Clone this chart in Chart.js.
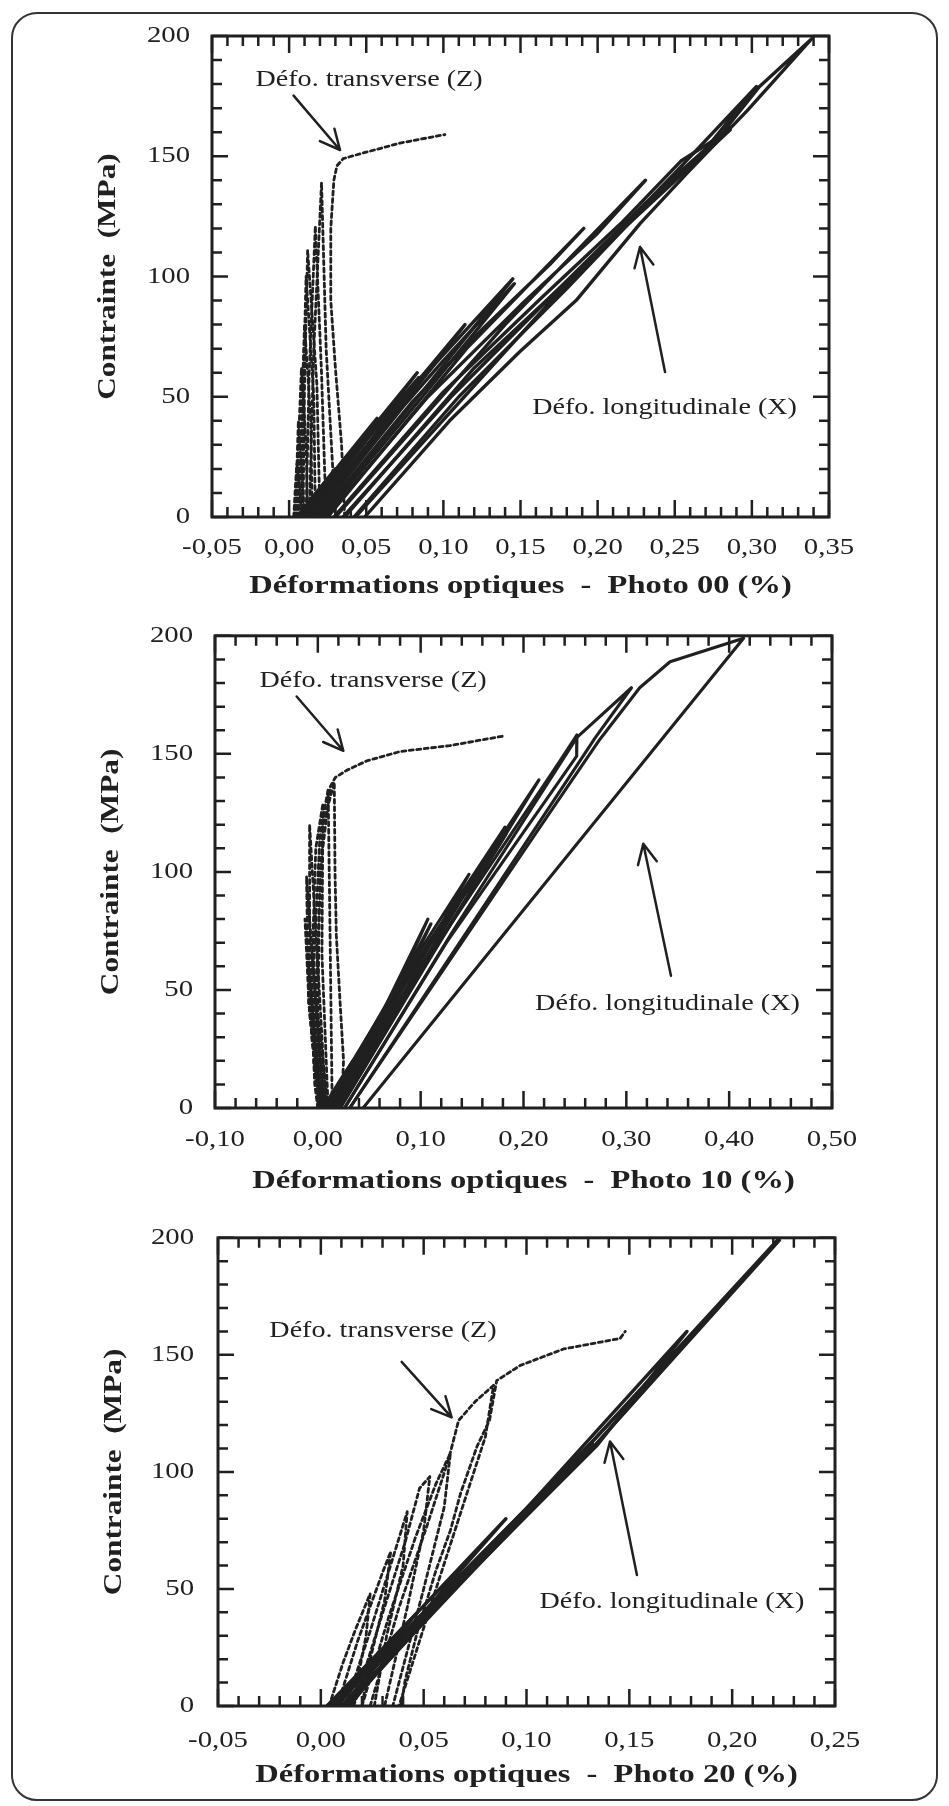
<!DOCTYPE html>
<html>
<head>
<meta charset="utf-8">
<script src="https://cdn.jsdelivr.net/npm/chart.js@4.4.0/dist/chart.umd.min.js"></script>
<style>
  body { margin: 0; background: #fff; }
  #page { position: relative; width: 949px; height: 1806px; overflow: hidden; background: #fff; }
  #frame { position: absolute; left: 11px; top: 12px; width: 923px; height: 1785px;
           border: 2px solid #333; border-radius: 26px; }
  canvas { position: absolute; left: 0; }
</style>
</head>
<body>
<div id="page">
  <div id="frame"></div>
  <canvas id="c00" width="949" height="600" style="top:0px"></canvas>
  <canvas id="c10" width="949" height="600" style="top:600px"></canvas>
  <canvas id="c20" width="949" height="606" style="top:1200px"></canvas>
</div>
<script>
// Valeurs : déformation (%) / contrainte (MPa), un tableau par cycle
const yTicks = [0, 50, 100, 150, 200];
const xTicks00 = [-0.05, 0, 0.05, 0.10, 0.15, 0.20, 0.25, 0.30, 0.35];
const xTicks10 = [-0.10, 0, 0.10, 0.20, 0.30, 0.40, 0.50];
const xTicks20 = [-0.05, 0, 0.05, 0.10, 0.15, 0.20, 0.25];

// Photo 00 - longitudinale (X)
const photo00Long = [
  [[0.005,0],[0.020,12],[0.030,20],[0.018,10],[0.007,0]],
  [[0.006,0],[0.033,22],[0.057,41],[0.034,20],[0.009,0]],
  [[0.008,0],[0.045,30],[0.083,60],[0.050,32],[0.012,0]],
  [[0.009,0],[0.047,30],[0.084,58],[0.053,32],[0.013,0]],
  [[0.011,0],[0.060,40],[0.088,60],[0.114,80],[0.068,42],[0.016,0]],
  [[0.015,0],[0.070,45],[0.095,64],[0.145,99],[0.090,55],[0.020,0]],
  [[0.017,0],[0.074,46],[0.100,65],[0.146,97],[0.094,56],[0.022,0]],
  [[0.019,0],[0.080,48],[0.125,78],[0.169,105],[0.191,120],[0.115,70],[0.025,0]],
  [[0.024,0],[0.090,50],[0.150,88],[0.200,118],[0.231,140],[0.140,80],[0.030,0]],
  [[0.029,0],[0.100,52],[0.165,92],[0.215,122],[0.254,148],[0.286,161],[0.200,110],[0.120,62],[0.036,0]],
  [[0.035,0],[0.105,50],[0.175,95],[0.230,130],[0.270,153],[0.303,179],[0.250,143],[0.170,90],[0.043,0]],
  [[0.042,0],[0.110,50],[0.180,95],[0.235,132],[0.275,155],[0.305,179],[0.339,199],[0.297,169],[0.258,143],[0.2275,122],[0.186,90],[0.150,69],[0.104,40],[0.049,0]]
];
// Photo 00 - transverse (Z)
const photo00Trans = [
  [[0.003,0],[0.004,12],[0.005,22],[0.007,12],[0.008,0]],
  [[0.004,0],[0.005,20],[0.006,40],[0.008,20],[0.010,0]],
  [[0.005,0],[0.006,30],[0.008,62],[0.011,30],[0.012,0]],
  [[0.006,0],[0.008,40],[0.010,80],[0.014,40],[0.015,0]],
  [[0.008,0],[0.009,50],[0.011,100],[0.016,50],[0.017,0]],
  [[0.009,0],[0.010,55],[0.012,111],[0.018,55],[0.020,0]],
  [[0.011,0],[0.013,60],[0.017,121],[0.021,60],[0.024,0]],
  [[0.013,0],[0.016,70],[0.021,139],[0.024,70],[0.030,0]],
  [[0.036,0],[0.034,30],[0.030,62],[0.027,90],[0.027,120],[0.029,140],[0.031,146],[0.035,149],[0.046,151],[0.072,155.5],[0.101,159]]
];

// Photo 10 - longitudinale (X)
const photo10Long = [
  [[0.005,0],[0.022,12],[0.034,20],[0.022,10],[0.007,0]],
  [[0.006,0],[0.034,20],[0.062,40],[0.038,20],[0.009,0]],
  [[0.008,0],[0.048,30],[0.088,60],[0.054,32],[0.011,0]],
  [[0.009,0],[0.052,32],[0.089,58],[0.058,33],[0.013,0]],
  [[0.010,0],[0.060,38],[0.107,80],[0.068,42],[0.013,0]],
  [[0.011,0],[0.064,40],[0.110,78],[0.072,43],[0.015,0]],
  [[0.012,0],[0.075,50],[0.147,99],[0.085,50],[0.016,0]],
  [[0.013,0],[0.079,51],[0.149,97],[0.089,51],[0.018,0]],
  [[0.014,0],[0.085,55],[0.182,119],[0.098,58],[0.019,0]],
  [[0.015,0],[0.090,57],[0.183,116],[0.103,60],[0.021,0]],
  [[0.016,0],[0.095,60],[0.215,139],[0.110,64],[0.022,0]],
  [[0.019,0],[0.105,62],[0.2355,147],[0.252,158],[0.2517,149],[0.125,70],[0.026,0]],
  [[0.026,0],[0.130,74],[0.252,157],[0.305,178],[0.270,157],[0.150,78],[0.031,0]],
  [[0.031,0],[0.216,119],[0.274,156],[0.313,178],[0.3425,189],[0.414,199],[0.044,0]]
];
// Photo 10 - transverse (Z)
const photo10Trans = [
  [[0.000,0],[-0.003,10],[-0.004,20],[-0.001,10],[0.002,0]],
  [[0.001,0],[-0.004,20],[-0.006,40],[-0.002,20],[0.003,0]],
  [[0.002,0],[-0.006,30],[-0.009,60],[-0.003,30],[0.004,0]],
  [[0.002,0],[-0.008,40],[-0.0125,80],[-0.004,40],[0.005,0]],
  [[0.003,0],[-0.009,45],[-0.011,98],[-0.003,50],[0.006,0]],
  [[0.004,0],[-0.008,50],[-0.008,120],[0.000,60],[0.008,0]],
  [[0.005,0],[-0.006,55],[-0.002,110],[0.005,129],[0.004,65],[0.010,0]],
  [[0.006,0],[-0.004,60],[0.002,115],[0.010,135],[0.012,70],[0.014,0]],
  [[0.008,0],[-0.002,50],[0.005,120],[0.016,138],[0.0167,100],[0.018,73],[0.0216,45],[0.025,20],[0.023,0]],
  [[0.010,0],[0.000,40],[0.002,100],[0.012,136],[0.017,140],[0.028,143],[0.0475,147],[0.080,151],[0.1285,153.5],[0.180,157.5]]
];

// Photo 20 - longitudinale (X)
const photo20Long = [
  [[0.003,0],[0.047,40],[0.008,0]],
  [[0.004,0],[0.090,80],[0.010,0]],
  [[0.005,0],[0.132,112],[0.012,0]],
  [[0.006,0],[0.053,40],[0.134,111],[0.178,160],[0.013,0]],
  [[0.003,0],[0.052,40],[0.133,111],[0.223,199],[0.130,111],[0.050,40],[0.014,0]],
  [[0.004,0],[0.050,40],[0.131,112],[0.222,199],[0.132,110],[0.054,40],[0.011,0]]
];
// Photo 20 - transverse (Z)
const photo20Trans = [
  [[0.004,0],[0.011,19],[0.017,33],[0.024,48],[0.022,30],[0.018,12],[0.016,0]],
  [[0.008,0],[0.018,28],[0.030,57],[0.034,66],[0.031,45],[0.024,20],[0.020,0]],
  [[0.012,0],[0.024,32],[0.036,66],[0.042,83],[0.040,60],[0.032,30],[0.026,0]],
  [[0.016,0],[0.028,34],[0.041,70],[0.048,93],[0.053,98],[0.050,75],[0.042,42],[0.031,0]],
  [[0.020,0],[0.033,38],[0.046,72],[0.056,95],[0.063,108],[0.060,85],[0.050,50],[0.035,0]],
  [[0.024,0],[0.038,42],[0.052,78],[0.062,105],[0.067,122],[0.075,130],[0.084,137],[0.080,115],[0.070,88],[0.056,50],[0.038,0]],
  [[0.039,0],[0.041,11],[0.047,32],[0.056,58],[0.063,75],[0.068,91],[0.076,111],[0.082,122],[0.0855,139],[0.097,145.5],[0.118,152.5],[0.1455,157],[0.148,160]]
];

const INK = '#202020';
const SERIF = '"Liberation Serif", "Times New Roman", serif';
const TEXT_STRETCH = 1.25;   // le scan original est étiré horizontalement
Chart.defaults.font.family = SERIF;
Chart.defaults.color = INK;

const fmt = v => (Math.abs(v) < 1e-9 ? 0 : v).toFixed(2).replace('.', ',');

// cadre complet + graduations intérieures sur les quatre côtés
const frameTicks = {
  id: 'frameTicks',
  afterDatasetsDraw(chart) {
    const { ctx, chartArea: a, scales: { x, y } } = chart;
    const marks = scale => {
      const v = scale.ticks.map(t => t.value);
      const out = [];
      for (let i = 0; i < v.length; i++) {
        out.push([v[i], true]);
        if (i < v.length - 1) for (let k = 1; k < 5; k++) out.push([v[i] + (v[i + 1] - v[i]) * k / 5, false]);
      }
      return out;
    };
    ctx.save();
    ctx.strokeStyle = INK;
    ctx.lineWidth = 2.5;
    ctx.beginPath();
    marks(x).forEach(([v, major]) => {
      const px = x.getPixelForValue(v), len = major ? 17 : 10;
      ctx.moveTo(px, a.bottom); ctx.lineTo(px, a.bottom - len);
      ctx.moveTo(px, a.top); ctx.lineTo(px, a.top + len);
    });
    marks(y).forEach(([v, major]) => {
      const py = y.getPixelForValue(v), len = major ? 16 : 10;
      ctx.moveTo(a.left, py); ctx.lineTo(a.left + len, py);
      ctx.moveTo(a.right, py); ctx.lineTo(a.right - len, py);
    });
    ctx.stroke();
    ctx.lineWidth = 3;
    ctx.strokeRect(a.left, a.top, a.right - a.left, a.bottom - a.top);
    ctx.restore();
  }
};

// textes et flèches d'annotation, placés en unités des axes
function notesPlugin(notes) {
  return {
    id: 'notes',
    afterDatasetsDraw(chart) {
      const { ctx, scales: { x, y } } = chart;
      ctx.save();
      ctx.fillStyle = INK;
      ctx.strokeStyle = INK;
      ctx.font = '22.5px ' + SERIF;
      ctx.textAlign = 'center';
      ctx.textBaseline = 'alphabetic';
      notes.labels.forEach(l => {
        ctx.fillText(l.text, x.getPixelForValue(l.at[0]), y.getPixelForValue(l.at[1]));
      });
      ctx.lineWidth = 2.5;
      ctx.lineCap = 'round';
      notes.arrows.forEach(ar => {
        const x1 = x.getPixelForValue(ar.from[0]), y1 = y.getPixelForValue(ar.from[1]);
        const x2 = x.getPixelForValue(ar.to[0]), y2 = y.getPixelForValue(ar.to[1]);
        const ang = Math.atan2(y2 - y1, x2 - x1);
        ctx.beginPath();
        ctx.moveTo(x1, y1); ctx.lineTo(x2, y2);
        [-0.45, 0.45].forEach(d => {
          ctx.moveTo(x2, y2);
          ctx.lineTo(x2 - 22 * Math.cos(ang + d), y2 - 22 * Math.sin(ang + d));
        });
        ctx.stroke();
      });
      ctx.restore();
    }
  };
}

function buildDatasets(longCycles, transCycles, longWidth) {
  const sets = [];
  transCycles.forEach(c => sets.push({
    data: c.map(p => ({ x: p[0], y: p[1] })),
    borderColor: INK, borderWidth: 2.8, borderDash: [4, 3.5]
  }));
  longCycles.forEach(c => sets.push({
    data: c.map(p => ({ x: p[0], y: p[1] })),
    borderColor: INK, borderWidth: longWidth
  }));
  return sets;
}

function makePanel(p) {
  const W = 949;
  const canvas = document.getElementById(p.id);
  // texte étiré horizontalement comme sur la figure scannée
  const c2d = canvas.getContext('2d');
  const fill = c2d.fillText.bind(c2d);
  c2d.fillText = (t, x, y) => {
    c2d.save();
    c2d.translate(x, y);
    c2d.scale(TEXT_STRETCH, 1);
    fill(t, 0, 0);
    c2d.restore();
  };

  new Chart(canvas, {
    type: 'scatter',
    data: { datasets: buildDatasets(p.long, p.trans, p.longWidth) },
    options: {
      responsive: false,
      animation: false,
      devicePixelRatio: 1,
      showLine: true,
      elements: { point: { radius: 0 }, line: { tension: 0, borderJoinStyle: 'round', borderCapStyle: 'round' } },
      layout: { padding: { top: p.area.t, right: W - p.area.r, bottom: 0, left: 0 } },
      plugins: { legend: { display: false }, tooltip: { enabled: false } },
      scales: {
        x: {
          type: 'linear', min: p.xTicks[0], max: p.xTicks[p.xTicks.length - 1],
          grid: { display: false, drawTicks: false }, border: { display: false },
          afterBuildTicks: s => { s.ticks = p.xTicks.map(v => ({ value: v })); },
          afterFit: s => { s.height = p.h - p.area.b; },
          ticks: { callback: v => fmt(v), font: { size: 23 }, padding: p.xPad, maxRotation: 0, autoSkip: false },
          title: { display: true, text: p.xTitle, font: { size: 26, weight: 'bold', lineHeight: 1 },
                   padding: { top: 0, bottom: p.xTitleBottom } }
        },
        y: {
          type: 'linear', min: 0, max: 200,
          grid: { display: false, drawTicks: false }, border: { display: false },
          afterBuildTicks: s => { s.ticks = yTicks.map(v => ({ value: v })); },
          afterFit: s => { s.width = p.area.l; },
          ticks: { callback: v => String(v), font: { size: 23 }, padding: p.yPad },
          title: { display: true, text: 'Contrainte  (MPa)', font: { size: 25, weight: 'bold', lineHeight: 1 },
                   padding: { top: p.yTitleX - 12.5, bottom: 0 } }
        }
      }
    },
    plugins: [frameTicks, notesPlugin(p.notes)]
  });
}

function drawAll() {
  makePanel({
    id: 'c00', h: 600, area: { l: 212, r: 829, t: 36, b: 517 },
    xTicks: xTicks00, long: photo00Long, trans: photo00Trans, longWidth: 3.4,
    xTitle: 'Déformations optiques  -  Photo 00 (%)', xPad: 17, xTitleBottom: 1, yPad: 22, yTitleX: 109,
    notes: {
      labels: [{ text: 'Défo. transverse (Z)', at: [0.0518, 179.2] },
               { text: 'Défo. longitudinale (X)', at: [0.2434, 42.8] }],
      arrows: [{ from: [0.0029, 175.2], to: [0.033, 152.6] },
               { from: [0.2437, 60.3], to: [0.2275, 112.3] }]
    }
  });

  makePanel({
    id: 'c10', h: 600, area: { l: 215, r: 832, t: 27, b: 508 },
    xTicks: xTicks10, long: photo10Long, trans: photo10Trans, longWidth: 3.1,
    xTitle: 'Déformations optiques  -  Photo 10 (%)', xPad: 18.5, xTitleBottom: 6, yPad: 22, yTitleX: 112,
    notes: {
      labels: [{ text: 'Défo. transverse (Z)', at: [0.0537, 178.4] },
               { text: 'Défo. longitudinale (X)', at: [0.340, 41.5] }],
      arrows: [{ from: [-0.0206, 174.3], to: [0.0248, 151.3] },
               { from: [0.3434, 56], to: [0.3165, 111.9] }]
    }
  });

  makePanel({
    id: 'c20', h: 606, area: { l: 218, r: 835, t: 26, b: 506 },
    xTicks: xTicks20, long: photo20Long, trans: photo20Trans, longWidth: 3.4,
    xTitle: 'Déformations optiques  -  Photo 20 (%)', xPad: 21, xTitleBottom: 18, yPad: 24, yTitleX: 115,
    notes: {
      labels: [{ text: 'Défo. transverse (Z)', at: [0.0302, 157.5] },
               { text: 'Défo. longitudinale (X)', at: [0.1707, 42] }],
      arrows: [{ from: [0.0393, 147], to: [0.0636, 123.3] },
               { from: [0.1537, 56], to: [0.1406, 113] }]
    }
  });
}

// attendre que la police serif soit prête avant de dessiner
Promise.all([
  document.fonts.load('23px "Liberation Serif"'),
  document.fonts.load('bold 26px "Liberation Serif"')
]).then(drawAll, drawAll);
</script>
</body>
</html>
